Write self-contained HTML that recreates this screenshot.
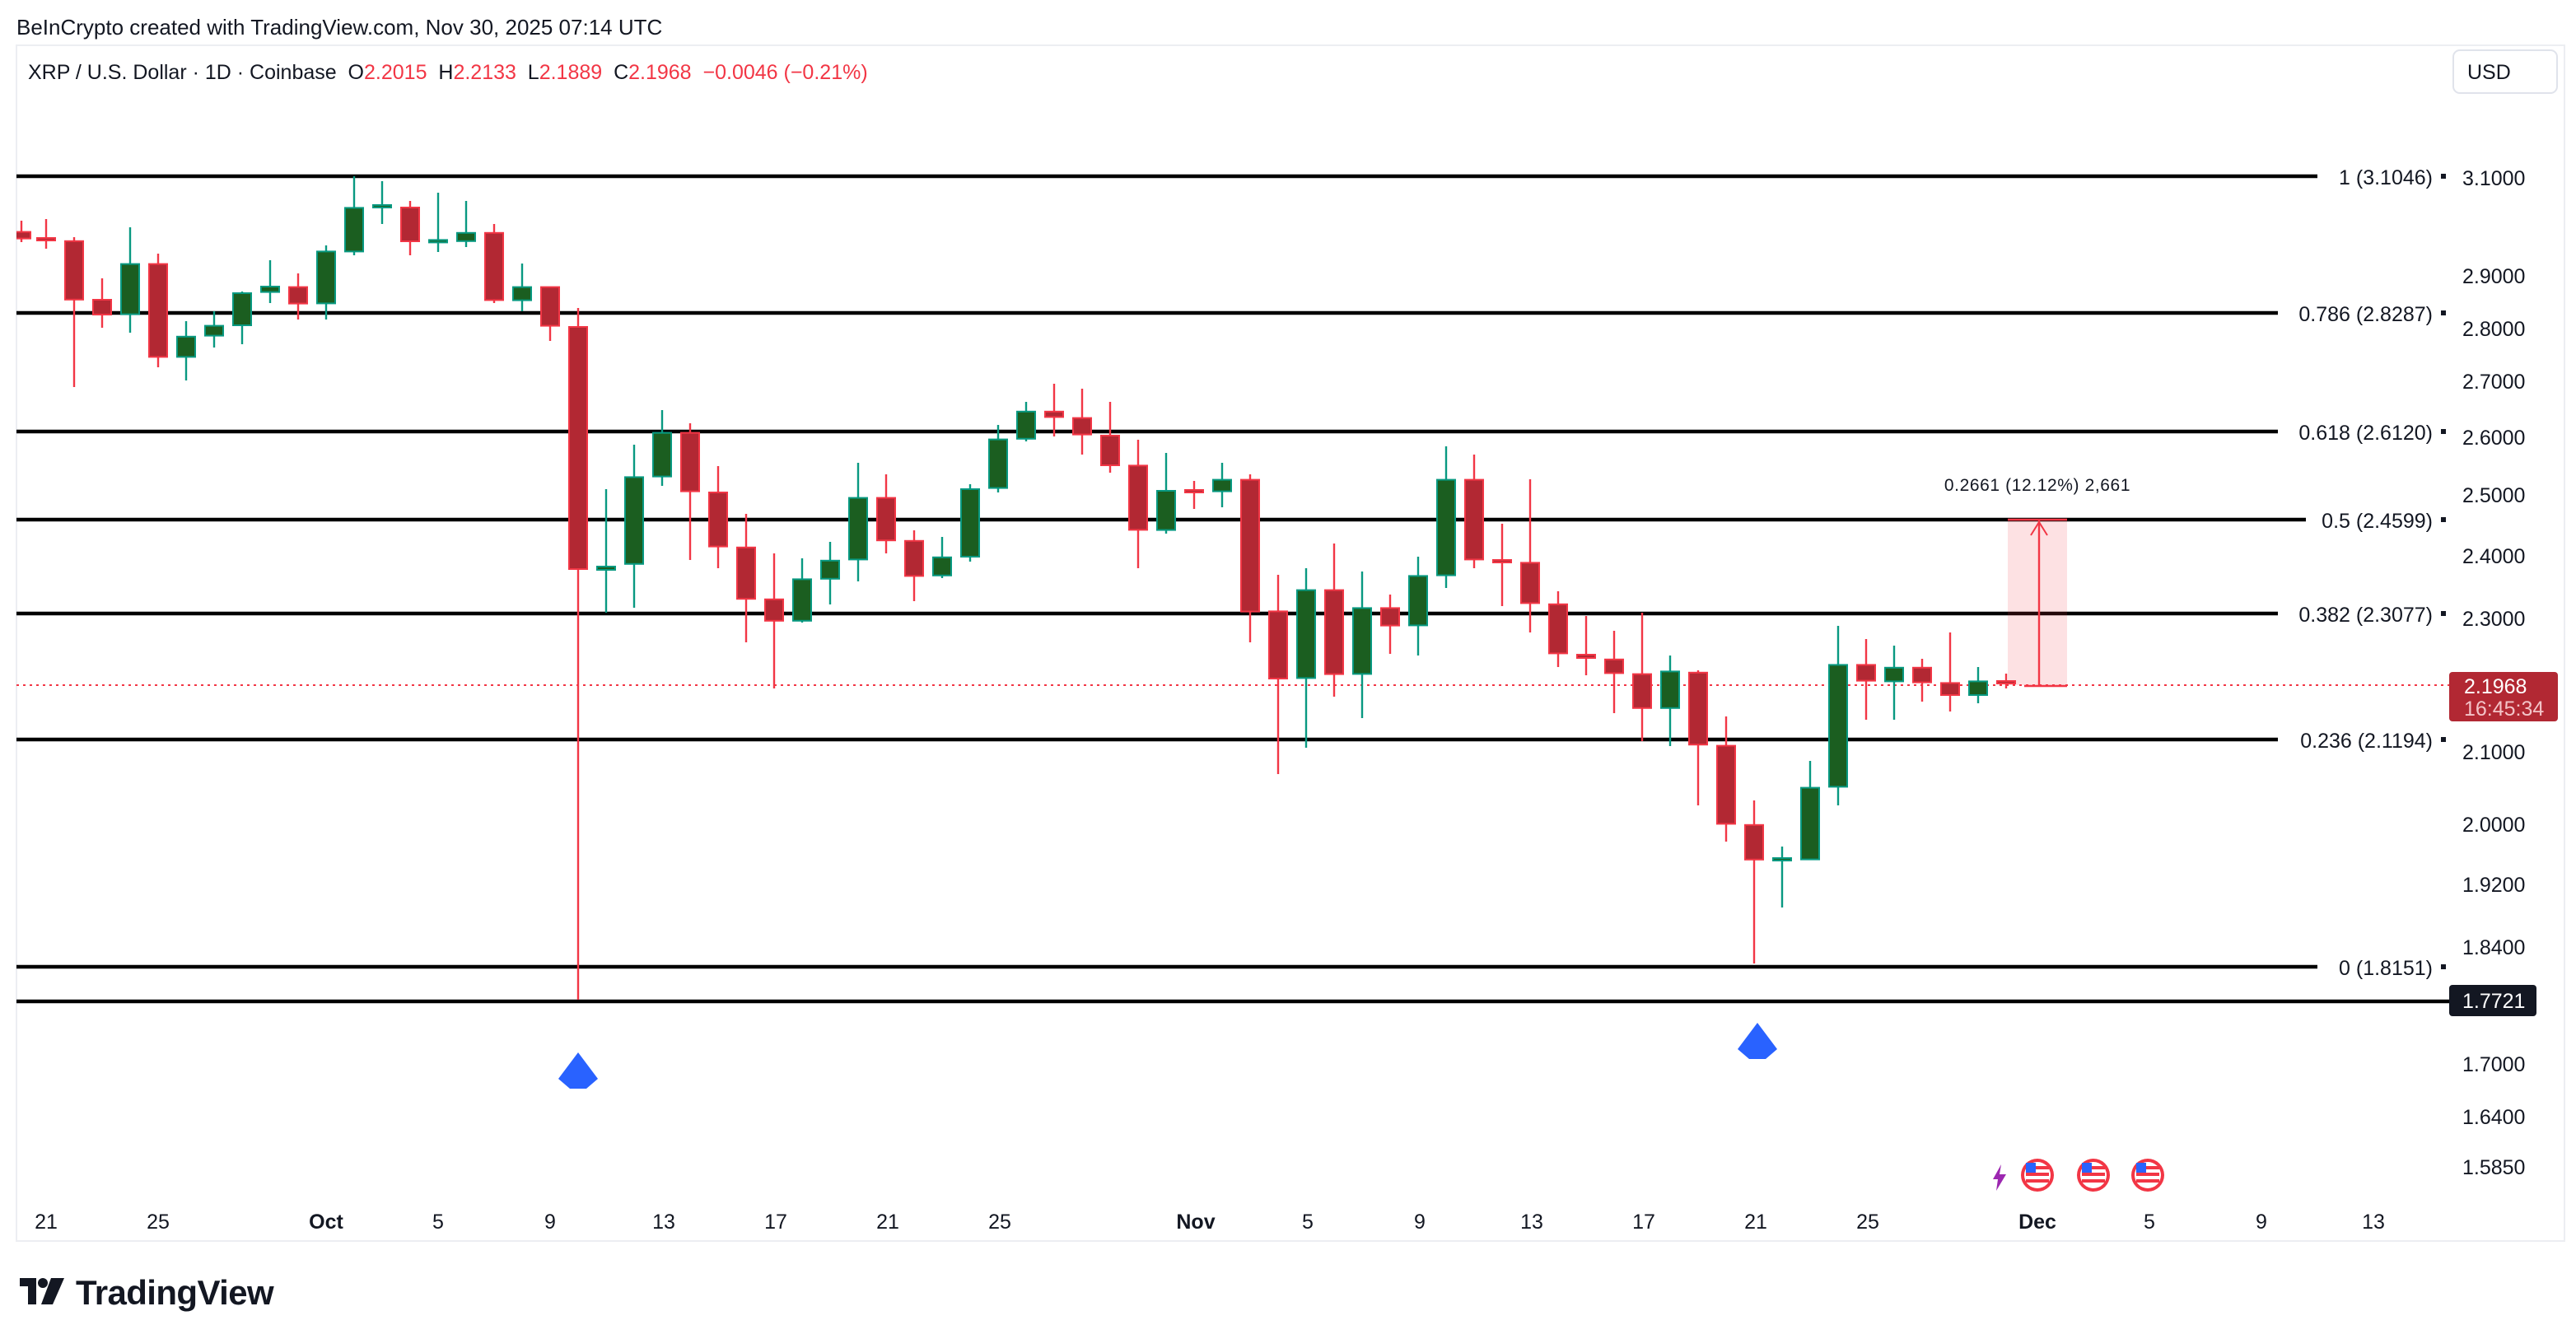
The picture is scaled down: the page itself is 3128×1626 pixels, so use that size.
<!DOCTYPE html>
<html><head><meta charset="utf-8"><style>
html,body{margin:0;padding:0;background:#fff;}
svg{display:block;}
text{font-family:"Liberation Sans",sans-serif;}
.wr{stroke:#f23645;stroke-width:1.2;}
.wg{stroke:#089981;stroke-width:1.2;}
.r{fill:#b22833;stroke:#f23645;stroke-width:1;}
.g{fill:#1b5e20;stroke:#089981;stroke-width:1;}
.fib{stroke:#000;stroke-width:2.2;}
.pl{font-size:12.5px;fill:#131722;}
.fl{font-size:12.5px;fill:#131722;text-anchor:end;}
.dl{font-size:12.5px;fill:#131722;text-anchor:middle;}
</style></head><body>
<svg width="3128" height="1626" viewBox="0 0 1564 813" xmlns="http://www.w3.org/2000/svg">
<rect width="1564" height="813" fill="#fff"/>
<text x="10" y="21" style="font-size:13px" fill="#131722">BeInCrypto created with TradingView.com, Nov 30, 2025 07:14 UTC</text>
<rect x="10" y="27.5" width="1547" height="726" fill="none" stroke="#eceef2" stroke-width="1"/>
<text x="17" y="48" style="font-size:12.5px;white-space:pre" xml:space="preserve" fill="#131722">XRP / U.S. Dollar · 1D · Coinbase  O<tspan fill="#f23645">2.2015</tspan>  H<tspan fill="#f23645">2.2133</tspan>  L<tspan fill="#f23645">2.1889</tspan>  C<tspan fill="#f23645">2.1968</tspan>  <tspan fill="#f23645">−0.0046 (−0.21%)</tspan></text>
<rect x="1489.5" y="30.5" width="63" height="26" rx="4" fill="#fff" stroke="#e0e3eb"/>
<text x="1498" y="48" style="font-size:12.5px" fill="#131722">USD</text>

<line class="fib" x1="10" y1="107" x2="1407" y2="107"/>
<line class="fib" x1="10" y1="190" x2="1383" y2="190"/>
<line class="fib" x1="10" y1="262" x2="1383" y2="262"/>
<line class="fib" x1="10" y1="315.5" x2="1400" y2="315.5"/>
<line class="fib" x1="10" y1="372.5" x2="1383" y2="372.5"/>
<line class="fib" x1="10" y1="449" x2="1383" y2="449"/>
<line class="fib" x1="10" y1="587" x2="1407" y2="587"/>
<line class="fib" x1="10" y1="608" x2="1487" y2="608"/>
<text class="fl" x="1477" y="112">1 (3.1046)</text>
<text class="fl" x="1477" y="195">0.786 (2.8287)</text>
<text class="fl" x="1477" y="267">0.618 (2.6120)</text>
<text class="fl" x="1477" y="320.5">0.5 (2.4599)</text>
<text class="fl" x="1477" y="377.5">0.382 (2.3077)</text>
<text class="fl" x="1477" y="454">0.236 (2.1194)</text>
<text class="fl" x="1477" y="592">0 (1.8151)</text>
<g fill="#131722"><rect x="1482" y="105.5" width="3" height="3"/><rect x="1482" y="188.5" width="3" height="3"/><rect x="1482" y="260.5" width="3" height="3"/><rect x="1482" y="314" width="3" height="3"/><rect x="1482" y="371" width="3" height="3"/><rect x="1482" y="447.5" width="3" height="3"/><rect x="1482" y="585.5" width="3" height="3"/></g>

<line x1="10" y1="416" x2="1487" y2="416" stroke="#f23645" stroke-width="1" stroke-dasharray="1.5,2.5"/>

<rect x="1219" y="315" width="36" height="101" fill="#f23645" fill-opacity="0.15"/>
<line x1="1219" y1="315.5" x2="1255" y2="315.5" stroke="#f23645" stroke-width="1.3"/>
<line x1="1238" y1="316" x2="1238" y2="416" stroke="#f23645" stroke-width="1.2"/>
<path d="M1233 325L1238 317L1243 325" fill="none" stroke="#f23645" stroke-width="1"/>
<line x1="1229" y1="416.5" x2="1255" y2="416.5" stroke="#f23645" stroke-width="1.3"/>
<text x="1237" y="298" text-anchor="middle" style="font-size:10.5px;letter-spacing:0.3px" fill="#131722">0.2661 (12.12%) 2,661</text>

<svg x="10" y="28" width="1470" height="725" viewBox="10 28 1470 725" overflow="hidden">
<g>
<line class="wr" x1="13" y1="134" x2="13" y2="147"/><rect class="r" x="7.5" y="140.8" width="11" height="4"/>
<line class="wr" x1="28" y1="133" x2="28" y2="151"/><rect class="r" x="22.5" y="144.5" width="11" height="1.5"/>
<line class="wr" x1="45" y1="144" x2="45" y2="235"/><rect class="r" x="39.5" y="146.4" width="11" height="35.5"/>
<line class="wr" x1="62" y1="169" x2="62" y2="199"/><rect class="r" x="56.5" y="182" width="11" height="9"/>
<line class="wg" x1="79" y1="138" x2="79" y2="202"/><rect class="g" x="73.5" y="160.3" width="11" height="30.5"/>
<line class="wr" x1="96" y1="154" x2="96" y2="223"/><rect class="r" x="90.5" y="160.3" width="11" height="56.4"/>
<line class="wg" x1="113" y1="195" x2="113" y2="231"/><rect class="g" x="107.5" y="204.4" width="11" height="12.3"/>
<line class="wg" x1="130" y1="189" x2="130" y2="211"/><rect class="g" x="124.5" y="197.8" width="11" height="6"/>
<line class="wg" x1="147" y1="177" x2="147" y2="209"/><rect class="g" x="141.5" y="178" width="11" height="19.5"/>
<line class="wg" x1="164" y1="158" x2="164" y2="184"/><rect class="g" x="158.5" y="174" width="11" height="3.3"/>
<line class="wr" x1="181" y1="166" x2="181" y2="194"/><rect class="r" x="175.5" y="174.3" width="11" height="10"/>
<line class="wg" x1="198" y1="149" x2="198" y2="194"/><rect class="g" x="192.5" y="152.7" width="11" height="31.5"/>
<line class="wg" x1="215" y1="107" x2="215" y2="155"/><rect class="g" x="209.5" y="126.2" width="11" height="26.5"/>
<line class="wg" x1="232" y1="110" x2="232" y2="136"/><rect class="g" x="226.5" y="124.5" width="11" height="1.5"/>
<line class="wr" x1="249" y1="122" x2="249" y2="155"/><rect class="r" x="243.5" y="126" width="11" height="20.5"/>
<line class="wg" x1="266" y1="117" x2="266" y2="153"/><rect class="g" x="260.5" y="145.7" width="11" height="1.5"/>
<line class="wg" x1="283" y1="122" x2="283" y2="150"/><rect class="g" x="277.5" y="141.4" width="11" height="5"/>
<line class="wr" x1="300" y1="136" x2="300" y2="184"/><rect class="r" x="294.5" y="141.4" width="11" height="40.8"/>
<line class="wg" x1="317" y1="160" x2="317" y2="189"/><rect class="g" x="311.5" y="174.3" width="11" height="8"/>
<line class="wr" x1="334" y1="174" x2="334" y2="207"/><rect class="r" x="328.5" y="174.3" width="11" height="23.5"/>
<line class="wr" x1="351" y1="187" x2="351" y2="607"/><rect class="r" x="345.5" y="198.5" width="11" height="147"/>
<line class="wg" x1="368" y1="297" x2="368" y2="372"/><rect class="g" x="362.5" y="344" width="11" height="2"/>
<line class="wg" x1="385" y1="270" x2="385" y2="369"/><rect class="g" x="379.5" y="289.7" width="11" height="52.7"/>
<line class="wg" x1="402" y1="249" x2="402" y2="295"/><rect class="g" x="396.5" y="262.8" width="11" height="26.5"/>
<line class="wr" x1="419" y1="257" x2="419" y2="340"/><rect class="r" x="413.5" y="262.8" width="11" height="35.5"/>
<line class="wr" x1="436" y1="283" x2="436" y2="345"/><rect class="r" x="430.5" y="299" width="11" height="32.8"/>
<line class="wr" x1="453" y1="312" x2="453" y2="390"/><rect class="r" x="447.5" y="332.4" width="11" height="31.2"/>
<line class="wr" x1="470" y1="336" x2="470" y2="418"/><rect class="r" x="464.5" y="363.9" width="11" height="13"/>
<line class="wg" x1="487" y1="339" x2="487" y2="378"/><rect class="g" x="481.5" y="351.7" width="11" height="25.2"/>
<line class="wg" x1="504" y1="329" x2="504" y2="367"/><rect class="g" x="498.5" y="340.4" width="11" height="11"/>
<line class="wg" x1="521" y1="281" x2="521" y2="353"/><rect class="g" x="515.5" y="302.3" width="11" height="37.4"/>
<line class="wr" x1="538" y1="288" x2="538" y2="336"/><rect class="r" x="532.5" y="302.3" width="11" height="25.8"/>
<line class="wr" x1="555" y1="322" x2="555" y2="365"/><rect class="r" x="549.5" y="328.4" width="11" height="21.3"/>
<line class="wg" x1="572" y1="326" x2="572" y2="351"/><rect class="g" x="566.5" y="338.4" width="11" height="11"/>
<line class="wg" x1="589" y1="294" x2="589" y2="341"/><rect class="g" x="583.5" y="297" width="11" height="41"/>
<line class="wg" x1="606" y1="258" x2="606" y2="299"/><rect class="g" x="600.5" y="266.8" width="11" height="29.5"/>
<line class="wg" x1="623" y1="244" x2="623" y2="268"/><rect class="g" x="617.5" y="249.9" width="11" height="16.5"/>
<line class="wr" x1="640" y1="233" x2="640" y2="265"/><rect class="r" x="634.5" y="249.9" width="11" height="3.3"/>
<line class="wr" x1="657" y1="236" x2="657" y2="276"/><rect class="r" x="651.5" y="253.8" width="11" height="10"/>
<line class="wr" x1="674" y1="244" x2="674" y2="287"/><rect class="r" x="668.5" y="264.5" width="11" height="18"/>
<line class="wr" x1="691" y1="267" x2="691" y2="345"/><rect class="r" x="685.5" y="282.7" width="11" height="39"/>
<line class="wg" x1="708" y1="275" x2="708" y2="324"/><rect class="g" x="702.5" y="298" width="11" height="23.8"/>
<line class="wr" x1="725" y1="292" x2="725" y2="309"/><rect class="r" x="719.5" y="297.5" width="11" height="1.5"/>
<line class="wg" x1="742" y1="281" x2="742" y2="308"/><rect class="g" x="736.5" y="291.3" width="11" height="7"/>
<line class="wr" x1="759" y1="288" x2="759" y2="390"/><rect class="r" x="753.5" y="291.3" width="11" height="80"/>
<line class="wr" x1="776" y1="349" x2="776" y2="470"/><rect class="r" x="770.5" y="371.2" width="11" height="40.8"/>
<line class="wg" x1="793" y1="345" x2="793" y2="454"/><rect class="g" x="787.5" y="358.3" width="11" height="53.4"/>
<line class="wr" x1="810" y1="330" x2="810" y2="423"/><rect class="r" x="804.5" y="358.3" width="11" height="51"/>
<line class="wg" x1="827" y1="347" x2="827" y2="436"/><rect class="g" x="821.5" y="369.2" width="11" height="40"/>
<line class="wr" x1="844" y1="361" x2="844" y2="397"/><rect class="r" x="838.5" y="369.2" width="11" height="10.6"/>
<line class="wg" x1="861" y1="338" x2="861" y2="398"/><rect class="g" x="855.5" y="349.7" width="11" height="30"/>
<line class="wg" x1="878" y1="271" x2="878" y2="357"/><rect class="g" x="872.5" y="291.3" width="11" height="58"/>
<line class="wr" x1="895" y1="276" x2="895" y2="345"/><rect class="r" x="889.5" y="291.3" width="11" height="48.4"/>
<line class="wr" x1="912" y1="318" x2="912" y2="368"/><rect class="r" x="906.5" y="340" width="11" height="1.5"/>
<line class="wr" x1="929" y1="291" x2="929" y2="384"/><rect class="r" x="923.5" y="341.7" width="11" height="24.5"/>
<line class="wr" x1="946" y1="359" x2="946" y2="405"/><rect class="r" x="940.5" y="366.9" width="11" height="29.8"/>
<line class="wr" x1="963" y1="374" x2="963" y2="410"/><rect class="r" x="957.5" y="397.5" width="11" height="2"/>
<line class="wr" x1="980" y1="383" x2="980" y2="433"/><rect class="r" x="974.5" y="400.4" width="11" height="8.3"/>
<line class="wr" x1="997" y1="372" x2="997" y2="450"/><rect class="r" x="991.5" y="409.3" width="11" height="20.6"/>
<line class="wg" x1="1014" y1="398" x2="1014" y2="453"/><rect class="g" x="1008.5" y="407.7" width="11" height="22.2"/>
<line class="wr" x1="1031" y1="407" x2="1031" y2="489"/><rect class="r" x="1025.5" y="408.4" width="11" height="43.7"/>
<line class="wr" x1="1048" y1="435" x2="1048" y2="511"/><rect class="r" x="1042.5" y="452.8" width="11" height="47.4"/>
<line class="wr" x1="1065" y1="486" x2="1065" y2="585"/><rect class="r" x="1059.5" y="500.9" width="11" height="21"/>
<line class="wg" x1="1082" y1="514" x2="1082" y2="551"/><rect class="g" x="1076.5" y="521" width="11" height="1.5"/>
<line class="wg" x1="1099" y1="462" x2="1099" y2="522"/><rect class="g" x="1093.5" y="478.3" width="11" height="43.5"/>
<line class="wg" x1="1116" y1="380" x2="1116" y2="489"/><rect class="g" x="1110.5" y="403.7" width="11" height="74"/>
<line class="wr" x1="1133" y1="388" x2="1133" y2="437"/><rect class="r" x="1127.5" y="403.7" width="11" height="9.6"/>
<line class="wg" x1="1150" y1="392" x2="1150" y2="437"/><rect class="g" x="1144.5" y="405.4" width="11" height="8.3"/>
<line class="wr" x1="1167" y1="400" x2="1167" y2="426"/><rect class="r" x="1161.5" y="405.4" width="11" height="8.9"/>
<line class="wr" x1="1184" y1="384" x2="1184" y2="432"/><rect class="r" x="1178.5" y="414.7" width="11" height="7.3"/>
<line class="wg" x1="1201" y1="405" x2="1201" y2="427"/><rect class="g" x="1195.5" y="413.7" width="11" height="8.3"/>
<line class="wr" x1="1218" y1="409" x2="1218" y2="418"/><rect class="r" x="1212.5" y="413.5" width="11" height="1.5"/>
</g>
</svg>

<g class="pl">
<text x="1495" y="112.5">3.1000</text>
<text x="1495" y="172">2.9000</text>
<text x="1495" y="204">2.8000</text>
<text x="1495" y="236">2.7000</text>
<text x="1495" y="270">2.6000</text>
<text x="1495" y="305">2.5000</text>
<text x="1495" y="342">2.4000</text>
<text x="1495" y="380">2.3000</text>
<text x="1495" y="461">2.1000</text>
<text x="1495" y="505">2.0000</text>
<text x="1495" y="541.5">1.9200</text>
<text x="1495" y="579.5">1.8400</text>
<text x="1495" y="650.5">1.7000</text>
<text x="1495" y="682.5">1.6400</text>
<text x="1495" y="713">1.5850</text>
</g>
<rect x="1487" y="598" width="53" height="19" rx="2" fill="#131722"/>
<text x="1495" y="612" style="font-size:12.5px" fill="#fff">1.7721</text>
<rect x="1487" y="408" width="66" height="30" rx="2" fill="#b22833"/>
<text x="1496" y="421" style="font-size:12.5px" fill="#fff">2.1968</text>
<text x="1496" y="434.5" style="font-size:12.5px" fill="#f3c4c8">16:45:34</text>

<path d="M351 639L363 655L356 661L346 661L339 655Z" fill="#2962ff"/>
<path d="M1067 621L1079 637L1072 643L1062 643L1055 637Z" fill="#2962ff"/>

<g>
<path d="M1210 716l5-9-1 6h4l-6 10 1-7z" fill="#9c27b0"/>
<circle cx="1237" cy="713.5" r="10" fill="#f23645"/><circle cx="1237" cy="713.5" r="8" fill="#fff"/>
<rect x="1230" y="708" width="14" height="2" fill="#f23645"/><rect x="1230" y="712" width="14" height="2" fill="#f23645"/><rect x="1230" y="716" width="14" height="2" fill="#f23645"/><rect x="1230" y="706" width="6" height="6" fill="#2962ff"/>
<circle cx="1271" cy="713.5" r="10" fill="#f23645"/><circle cx="1271" cy="713.5" r="8" fill="#fff"/>
<rect x="1264" y="708" width="14" height="2" fill="#f23645"/><rect x="1264" y="712" width="14" height="2" fill="#f23645"/><rect x="1264" y="716" width="14" height="2" fill="#f23645"/><rect x="1264" y="706" width="6" height="6" fill="#2962ff"/>
<circle cx="1304" cy="713.5" r="10" fill="#f23645"/><circle cx="1304" cy="713.5" r="8" fill="#fff"/>
<rect x="1297" y="708" width="14" height="2" fill="#f23645"/><rect x="1297" y="712" width="14" height="2" fill="#f23645"/><rect x="1297" y="716" width="14" height="2" fill="#f23645"/><rect x="1297" y="706" width="6" height="6" fill="#2962ff"/>
</g>

<g class="dl">
<text x="28" y="746">21</text><text x="96" y="746">25</text><text x="198" y="746" font-weight="bold">Oct</text><text x="266" y="746">5</text><text x="334" y="746">9</text><text x="403" y="746">13</text><text x="471" y="746">17</text><text x="539" y="746">21</text><text x="607" y="746">25</text><text x="726" y="746" font-weight="bold">Nov</text><text x="794" y="746">5</text><text x="862" y="746">9</text><text x="930" y="746">13</text><text x="998" y="746">17</text><text x="1066" y="746">21</text><text x="1134" y="746">25</text><text x="1237" y="746" font-weight="bold">Dec</text><text x="1305" y="746">5</text><text x="1373" y="746">9</text><text x="1441" y="746">13</text>
</g>

<g fill="#131722">
<rect x="12" y="776" width="10" height="5"/><rect x="17" y="776" width="5" height="16"/>
<circle cx="26" cy="779" r="3"/>
<path d="M31 776h8l-7 16h-7z"/>
<text x="46" y="792" style="font-size:21px;font-weight:bold;letter-spacing:-0.3px">TradingView</text>
</g>
</svg>
</body></html>
